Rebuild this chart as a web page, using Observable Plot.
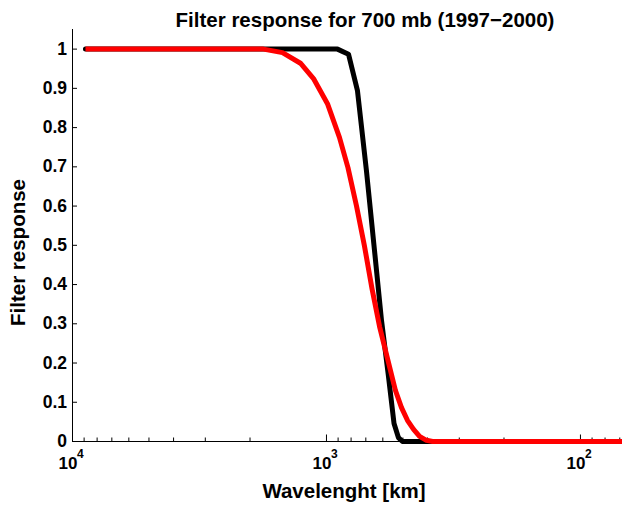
<!DOCTYPE html>
<html>
<head>
<meta charset="utf-8">
<script src="https://cdn.jsdelivr.net/npm/d3@7"></script>
<script src="https://cdn.jsdelivr.net/npm/@observablehq/plot@0.6"></script>
<style>
  html, body { margin: 0; padding: 0; background: #fff; }
  body { width: 622px; height: 505px; overflow: hidden; font-family: "Liberation Sans", Arial, Helvetica, sans-serif; }
  #title { position: relative; height: 29px; }
  #title span { position: absolute; left: 365px; top: 10px; transform: translateX(-50%); white-space: nowrap;
    font-weight: bold; font-size: 20.5px; line-height: 20px; color: #000; }
  #chart svg { display: block; }
</style>
</head>
<body>
<div id="title"><span>Filter response for 700 mb (1997−2000)</span></div>
<div id="chart"></div>
<script>
// ---- data ----
const blackWavelength = [8890, 905, 819, 755, 696, 647, 607, 570, 542, 521, 502, 60];
const blackResponse   = [1, 1, 0.987, 0.894, 0.690, 0.487, 0.308, 0.166, 0.046, 0.010, 0, 0];

const redWavelength = [8890, 1770, 1490, 1266, 1125, 991, 889, 823, 762, 709, 662, 618, 575, 535, 507, 480, 454, 430, 404, 382, 60];
const redResponse   = [1, 1, 0.991, 0.964, 0.925, 0.861, 0.775, 0.698, 0.601, 0.499, 0.390, 0.293, 0.211, 0.130, 0.087, 0.054, 0.031, 0.013, 0.003, 0, 0];

const xMajorTicks = [10000, 1000, 100];
const xTickBase = "10";
const xTickExponents = ["4", "3", "2"];
const xMinorTicks = [9000, 8000, 7000, 6000, 5000, 4000, 3000, 2000, 900, 800, 700, 600, 500, 400, 300, 200, 90, 80, 70];
const yTicks = [0, 0.1, 0.2, 0.3, 0.4, 0.5, 0.6, 0.7, 0.8, 0.9, 1];
const yTickLabels = ["0", "0.1", "0.2", "0.3", "0.4", "0.5", "0.6", "0.7", "0.8", "0.9", "1"];
const xLabel = "Wavelenght [km]";
const yLabel = "Filter response";
const xDomain = [10000, 68.3];
const yDomain = [0, 1.05];

const blackData = blackWavelength.map((w, i) => ({w, r: blackResponse[i]}));
const redData = redWavelength.map((w, i) => ({w, r: redResponse[i]}));

const W = 622, H = 476, ML = 72, MR = 0, MT = 0, MB = 64;
const innerH = H - MT - MB, innerW = W - ML - MR;
const font = "'Liberation Sans', Arial, Helvetica, sans-serif";

const chart = Plot.plot({
  width: W, height: H,
  marginLeft: ML, marginRight: MR, marginTop: MT, marginBottom: MB,
  style: {fontFamily: font, background: "white", color: "black", overflow: "visible"},
  x: {type: "log", domain: xDomain, axis: null},
  y: {domain: yDomain, axis: null},
  marks: [
    // axes lines and ticks
    Plot.ruleX([xDomain[0]], {stroke: "#000", strokeWidth: 1}),
    Plot.ruleY([0], {stroke: "#000", strokeWidth: 1}),
    Plot.tickX(xMajorTicks, {x: d => d, stroke: "#000", strokeWidth: 1, insetTop: innerH - 6.5}),
    Plot.tickX(xMinorTicks, {x: d => d, stroke: "#000", strokeWidth: 1, insetTop: innerH - 3.5}),
    Plot.tickY(yTicks, {y: d => d, stroke: "#000", strokeWidth: 1, insetRight: innerW - 5}),
    // series
    Plot.line(blackData, {x: "w", y: "r", stroke: "#000", strokeWidth: 5}),
    Plot.line(redData, {x: "w", y: "r", stroke: "#ff0000", strokeWidth: 5, strokeLinecap: "butt"}),
    // tick labels
    Plot.text(yTicks, {y: d => d, text: (d, i) => yTickLabels[i], frameAnchor: "left", textAnchor: "end",
      dx: -5.5, fontSize: 17.5, fontWeight: "bold", fill: "#000"}),
    Plot.text(xMajorTicks, {x: d => d, text: () => xTickBase, frameAnchor: "bottom", lineAnchor: "bottom",
      dy: 27, dx: -4.5, fontSize: 17, fontWeight: "bold", fill: "#000"}),
    Plot.text(xMajorTicks, {x: d => d, text: (d, i) => xTickExponents[i], frameAnchor: "bottom", lineAnchor: "bottom",
      dy: 16, dx: 7.8, fontSize: 12, fontWeight: "bold", fill: "#000"}),
    // axis labels
    Plot.text([xLabel], {text: d => d, frameAnchor: "bottom", lineAnchor: "bottom", dy: 56, dx: -3.5,
      fontSize: 20.5, fontWeight: "bold", fill: "#000"}),
    Plot.text([yLabel], {text: d => d, frameAnchor: "left", rotate: -90, textAnchor: "middle", lineAnchor: "middle",
      dx: -54.5, dy: 17, fontSize: 20.5, fontWeight: "bold", fill: "#000"})
  ]
});
document.getElementById("chart").appendChild(chart);
</script>
</body>
</html>
